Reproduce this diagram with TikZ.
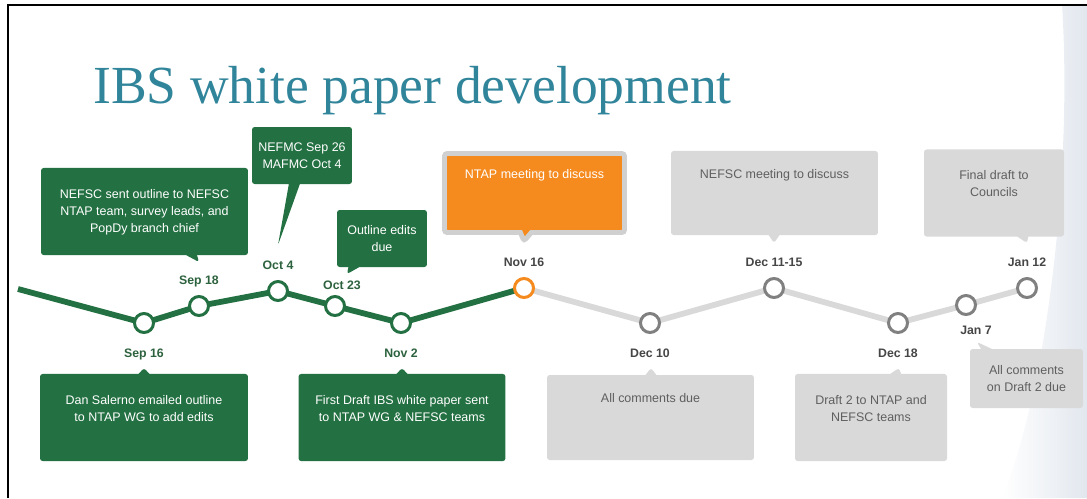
\documentclass[tikz,border=0pt]{standalone}
\usepackage{fontspec}
\setmainfont{Liberation Sans}
\newfontfamily\titlefont{Liberation Serif}
\usetikzlibrary{positioning, shapes.callouts, backgrounds}

\definecolor{ibsteal}{RGB}{49,133,155}
\definecolor{boxgreen}{RGB}{35,112,66}
\definecolor{dategreen}{RGB}{45,98,62}
\definecolor{dategray}{RGB}{70,70,70}
\definecolor{boxgray}{RGB}{217,217,217}
\definecolor{textgray}{RGB}{95,95,95}
\definecolor{dotgray}{RGB}{128,128,128}
\definecolor{ntaporange}{RGB}{245,138,31}
\definecolor{rimgray}{RGB}{208,208,208}
\definecolor{slideblue}{RGB}{226,231,238}

% top-aligned stack of centred lines
\newcommand{\notelines}[1]{\begin{tabular}[t]{@{}c@{}}#1\end{tabular}}

\begin{document}
\begin{tikzpicture}[x=0.02cm, y=-0.02cm,
		dot/.style={circle, fill=white, line width=1.7pt, minimum size=0.38cm, inner sep=0pt},
		gdot/.style={dot, draw=boxgreen},
		ydot/.style={dot, draw=dotgray},
		date/.style={font=\fontsize{7}{8}\selectfont\bfseries, inner sep=0pt, text height=5pt, text depth=1.5pt},
		gdate/.style={date, text=dategreen},
		ydate/.style={date, text=dategray},
		note/.style={rectangle callout, rounded corners=1.5pt, align=center, inner xsep=0.1cm,
			font=\fontsize{7.1}{9.8}\selectfont, callout pointer width=0.22cm},
		gnote/.style={note, fill=boxgreen, text=white},
		ynote/.style={note, fill=boxgray, text=textgray},
		tall/.style={inner ysep=0.36cm, text depth=0.78cm, minimum height=1.7cm},
		trail/.style={line width=3.3pt}]

	\useasboundingbox (0,0) rectangle (1087,498);

	% title
	\node[anchor=base west, inner sep=0pt, text=ibsteal, font=\titlefont\fontsize{30.5}{36}\selectfont] (title) at (93,103) {IBS white paper development};

	% timeline dots
	\coordinate (start) at (18,289);
	\node[gdot] (sepA) at (144,323) {};
	\node[gdot] (sepB) at (199,306) {};
	\node[gdot] (octA) at (278,291) {};
	\node[gdot] (octB) at (335,306) {};
	\node[gdot] (novA) at (401,323) {};
	\node[dot, draw=ntaporange] (novB) at (524,288) {};
	\node[ydot] (decA) at (650,323) {};
	\node[ydot] (decB) at (774,288) {};
	\node[ydot] (decC) at (898,323) {};
	\node[ydot] (janA) at (966,305) {};
	\node[ydot] (janB) at (1027,288) {};

	\begin{scope}[on background layer]
		\shade[left color=white, right color=slideblue] (1062,5) .. controls (1072,160) and (1050,380) .. (1002,498) -- (1087,498) -- (1087,5) -- cycle;
		\draw[line width=1.7pt] (8,498) -- (8,5) -- (1087,5);
		\draw[trail, boxgreen] (start) -- (sepA.center) -- (sepB.center) -- (octA.center) -- (octB.center) -- (novA.center) -- (novB.center);
		\draw[trail, boxgray] (novB.center) -- (decA.center) -- (decB.center) -- (decC.center) -- (janA.center) -- (janB.center);
	\end{scope}

	% dates
	\node[gdate, below=0.29cm of sepA] (sepAl) {Sep 16};
	\node[gdate, above=0.16cm of sepB] (sepBl) {Sep 18};
	\node[gdate, above=0.16cm of octA] (octAl) {Oct 4};
	\node[gdate, above=0.06cm of octB, xshift=0.14cm] (octBl) {Oct 23};
	\node[gdate, below=0.29cm of novA] (novAl) {Nov 2};
	\node[ydate, above=0.16cm of novB] (novBl) {Nov 16};
	\node[ydate, below=0.29cm of decA] (decAl) {Dec 10};
	\node[ydate, above=0.16cm of decB] (decBl) {Dec 11-15};
	\node[ydate, below=0.29cm of decC] (decCl) {Dec 18};
	\node[ydate, below=0.19cm of janA, xshift=0.2cm] (janAl) {Jan 7};
	\node[ydate, above=0.16cm of janB] (janBl) {Jan 12};

	% callouts above
	\node[gnote, tall, minimum width=4.14cm, callout absolute pointer={(199,262)}] (sent) at (144.5,211.5) {\notelines{NEFSC sent outline to NEFSC\\NTAP team, survey leads, and\\PopDy branch chief}};
	\node[gnote, minimum width=2cm, minimum height=1.14cm, callout absolute pointer={(278,245)}] (council) at (302,155.5) {NEFMC Sep 26\\MAFMC Oct 4};
	\node[gnote, minimum width=1.8cm, minimum height=1.14cm, callout absolute pointer={(347,274)}] (edits) at (382,238.5) {Outline edits\\due};
	\node[note, fill=ntaporange, draw=rimgray, line width=2.8pt, text=white, tall, minimum width=3.6cm, minimum height=1.58cm, inner ysep=0.29cm, callout absolute pointer={(524,241)}] (ntap) at (534.5,193) {NTAP meeting to discuss};
	\node[ynote, tall, minimum width=4.14cm, minimum height=1.68cm, callout absolute pointer={(774,243)}] (nefsc) at (774.5,193) {NEFSC meeting to discuss};
	\node[ynote, tall, minimum width=2.8cm, minimum height=1.68cm, callout absolute pointer={(1027,243)}] (final) at (994,193) {\notelines{Final draft to\\Councils}};

	% callouts below
	\node[gnote, tall, minimum width=4.16cm, callout absolute pointer={(144,368)}] (dan) at (144,417.5) {\notelines{Dan Salerno emailed outline\\to NTAP WG to add edits}};
	\node[gnote, tall, minimum width=4.14cm, callout absolute pointer={(402,368)}] (draft) at (402,417.5) {\notelines{First Draft IBS white paper sent\\to NTAP WG \& NEFSC teams}};
	\node[ynote, tall, minimum width=4.14cm, callout absolute pointer={(651,368)}] (due) at (650.5,417.5) {All comments due};
	\node[ynote, tall, minimum width=3.04cm, callout absolute pointer={(899,368)}] (second) at (871,417.5) {\notelines{Draft 2 to NTAP and\\NEFSC teams}};
	\node[ynote, minimum width=2.26cm, minimum height=1.18cm, callout absolute pointer={(977,342)}] (lastdue) at (1026.5,378.5) {All comments\\on Draft 2 due};
\end{tikzpicture}
\end{document}
